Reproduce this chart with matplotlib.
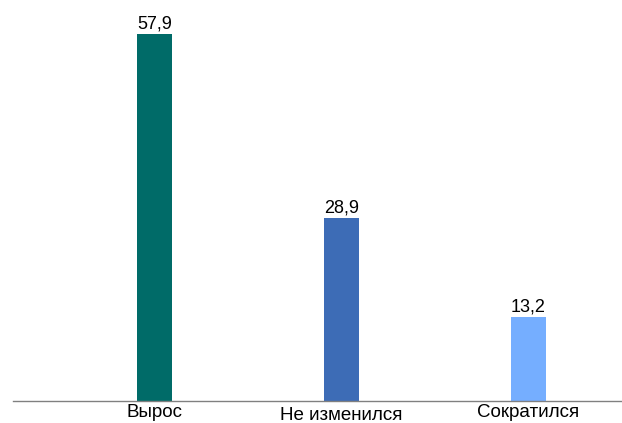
import matplotlib.pyplot as plt

# Données
categories = ["Вырос", "Не изменился", "Сократился"]
values = [57.9, 28.9, 13.2]
colors = ["#006B68", "#3D6CB6", "#75AEFF"]
label_y = [-1.75, -2.25, -1.75]

plt.rcParams['font.family'] = ['Liberation Sans', 'DejaVu Sans']

fig = plt.figure(figsize=(6.22, 4.23), dpi=100)
ax = fig.add_axes([13 / 622, 22 / 423, 609 / 622, 401 / 423])

x = list(range(len(categories)))
bars = ax.bar(x, values, width=0.187, color=colors)

for xi, v in zip(x, values):
    ax.annotate(f"{v:.1f}".replace('.', ','), (xi, v), xytext=(0, 1),
                textcoords='offset points', ha='center', va='bottom', fontsize=13)

for xi, name, ly in zip(x, categories, label_y):
    ax.text(xi, ly, name, ha='center', va='center', fontsize=13.5, clip_on=False)

ax.set_xlim(-0.755, 2.5)
ax.set_ylim(0, 63.3)
ax.set_xticks([])
ax.set_yticks([])
for side in ['top', 'right', 'left']:
    ax.spines[side].set_visible(False)
ax.spines['bottom'].set_color('#808080')
ax.spines['bottom'].set_linewidth(1)

fig.savefig("out.png", dpi=100)
